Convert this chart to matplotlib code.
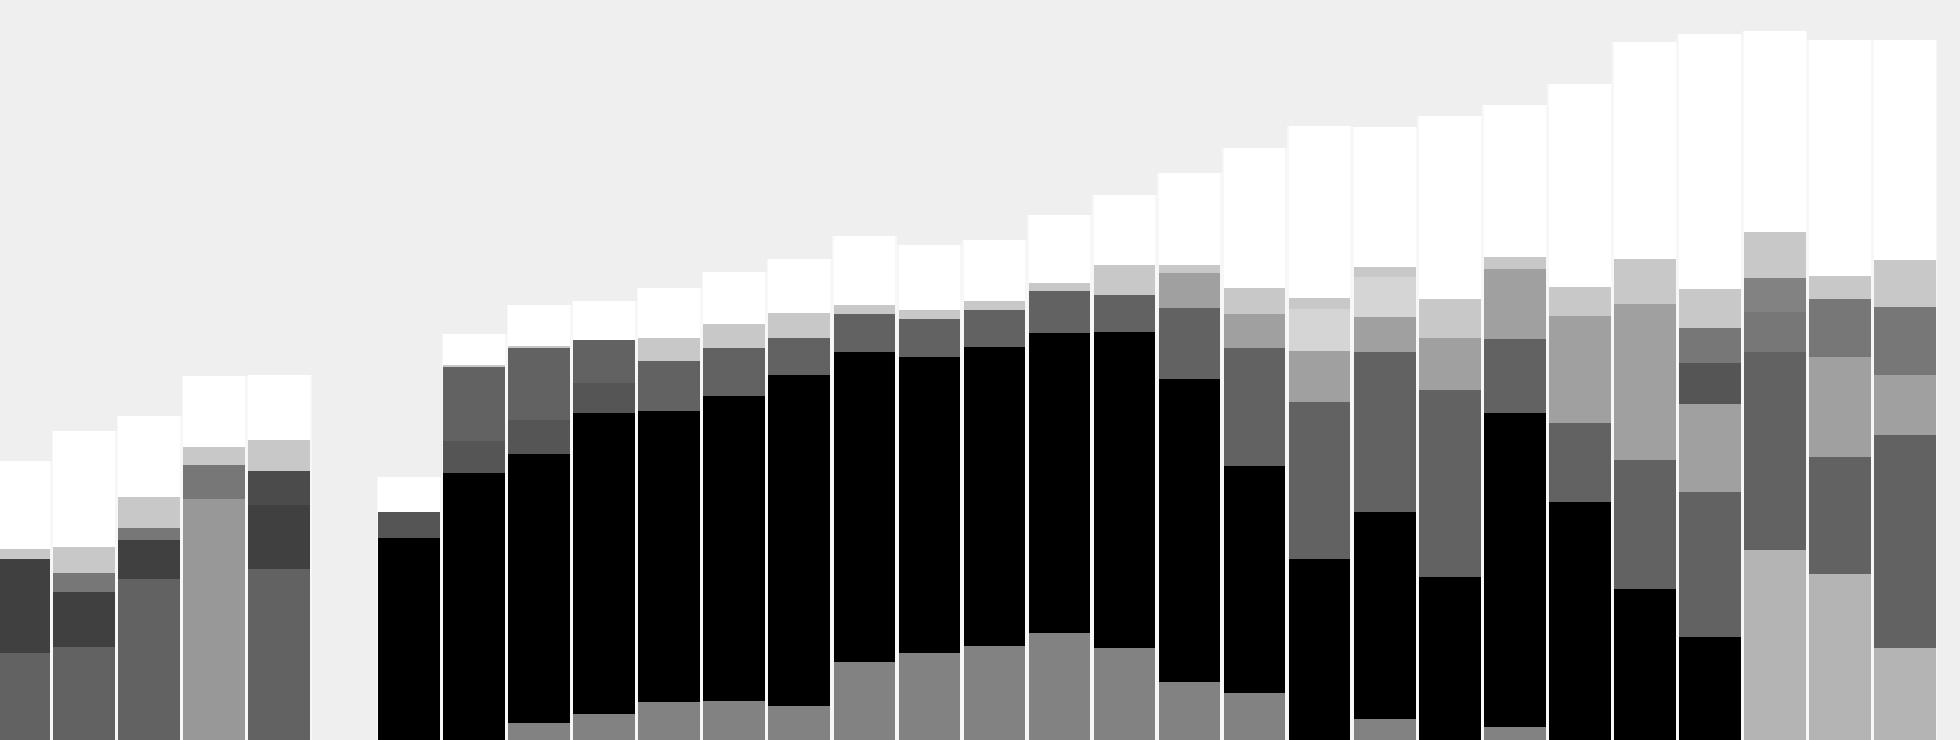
import numpy as np
import matplotlib
matplotlib.use("Agg")
import matplotlib.pyplot as plt

# 30 slots (slot 5 is empty)
slots = list(range(30))

palette = {
    "W": "#ffffff", "L": "#c8c8c8", "P": "#d5d5d5", "A": "#a0a0a0",
    "S": "#989898", "B": "#b4b4b4", "G": "#828282", "T": "#777777",
    "M": "#626262", "N": "#555555", "K": "#4b4b4b", "D": "#404040",
    "X": "#000000", "-": "#efefef",
}

# stacked layers, bottom to top (values and colour codes per slot)
layer1 = [87.3, 93.3, 161, 240.7, 170.7, 0, 201.7, 266.7, 17.3, 25.7, 37.7, 39, 34.3, 78.3, 87.3,
          94.3, 106.7, 92.3, 58.3, 46.7, 180.7, 21, 162.7, 13.3, 237.7, 150.7, 103.3, 189.7, 166, 92.3]
layer1_c = "MMMSM-XXGGGGGGGGGGGGXGXGXXXBBB"

layer2 = [93.4, 55, 39, 34, 64.3, 0, 26.6, 32, 268.7, 301.6, 291.3, 305.3, 330.4, 309.4, 296,
          299, 300, 316, 302.7, 227.6, 157.6, 207, 187.3, 313.4, 79, 129.3, 145, 198, 116.7, 212.7]
layer2_c = "DDDTD-NNXXXXXXXXXXXXMXMXMMMMMM"

layer3 = [10.6, 18.4, 11.7, 18, 34.3, 0, 35, 74, 34, 29.4, 50.3, 47.4, 37, 38.3, 37.7,
          36.7, 42.3, 36.7, 71.3, 118, 50.7, 160.3, 51.7, 74.3, 107.3, 155.7, 87.7, 40.3, 100, 60.3]
layer3_c = "LTTLK-WMNNMMMMMMMMMMAMAMAAATAA"

layer4 = [87.7, 26.3, 31, 71.6, 30.4, 0, 0, 2.3, 71.7, 43.3, 22.4, 24, 25, 9, 9,
          9, 7.7, 30, 34.7, 33.7, 41.7, 35, 39, 70, 29.3, 45, 40.7, 34, 58.3, 67.7]
layer4_c = "WLLWL--LMMLLLLLLLLAAPALALLNGTT"

layer5 = [0, 116, 81.3, 0, 65.3, 0, 0, 31, 2.3, 39.3, 50, 52.3, 54, 69.3, 65,
          61, 68.3, 70, 8, 26.3, 11.6, 39.7, 183, 12, 202.4, 217.6, 35, 46, 23, 47]
layer5_c = "-WW-W--WLWWWWWWWWWLLLPWLWWTLLL"

layer6 = [0, 0, 0, 0, 0, 0, 0, 0, 41, 0, 0, 0, 0, 0, 0,
          0, 0, 0, 91.7, 140, 171.7, 10.3, 0, 152, 0, 0, 39.6, 201, 235.7, 220.3]
layer6_c = "--------W---------WWWL-W--LWWW"

layer7 = [0, 0, 0, 0, 0, 0, 0, 0, 0, 0, 0, 0, 0, 0, 0,
          0, 0, 0, 0, 0, 0, 140, 0, 0, 0, 0, 254.7, 0, 0, 0]
layer7_c = "---------------------W----W---"

layers = [(layer1, layer1_c), (layer2, layer2_c), (layer3, layer3_c), (layer4, layer4_c),
          (layer5, layer5_c), (layer6, layer6_c), (layer7, layer7_c)]

bg = "#efefef"
fig = plt.figure(figsize=(19.6, 7.4), dpi=100, facecolor=bg)
ax = fig.add_axes([0, 0, 1, 1])
ax.set_facecolor(bg)

x = np.array(slots, dtype=float)
totals = np.sum([np.array(v, dtype=float) for v, _ in layers], axis=0)

# light backdrop that shows in the thin gaps between bars
ax.bar(x, totals, width=1.0, color="#f7f7f7", linewidth=0, zorder=1)

bottom = np.zeros(len(slots))
for vals, codes in layers:
    v = np.array(vals, dtype=float)
    cols = [palette[c] for c in codes]
    ax.bar(x, v, bottom=bottom, width=0.95, color=cols, linewidth=0, zorder=2)
    bottom += v

spacing = 65.03
ax.set_xlim(-19 / spacing, (1960 - 19) / spacing)
ax.set_ylim(0, 740)
ax.axis("off")

fig.savefig("out.png", dpi=100, facecolor=bg)
